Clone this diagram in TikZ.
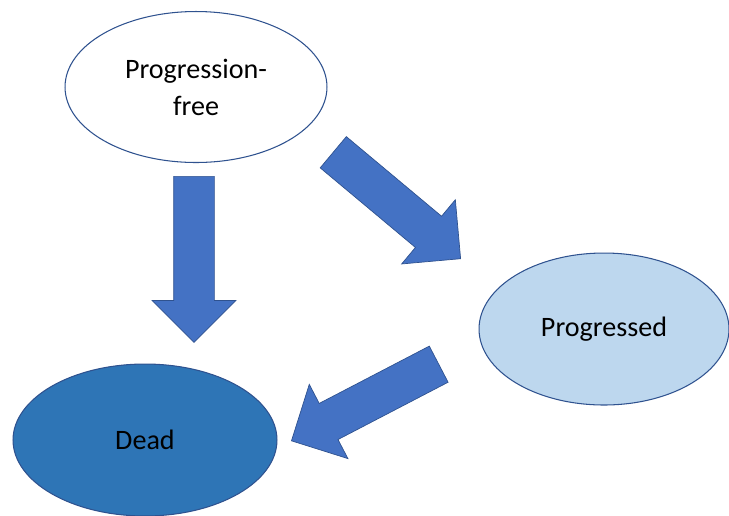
\documentclass[tikz,border=0pt]{standalone}
\usepackage{fontspec}
\setmainfont{Carlito}
\usetikzlibrary{shapes.geometric,shapes.arrows}
\definecolor{officeblue}{HTML}{4472C4}
\definecolor{edgeblue}{HTML}{2F528F}
\definecolor{deadblue}{HTML}{2E75B6}
\definecolor{paleblue}{HTML}{BDD7EE}
\begin{document}
\begin{tikzpicture}[
    x=0.02cm, y=-0.02cm,
    state/.style={ellipse,draw=edgeblue,line width=0.6pt,inner sep=0pt,
      minimum width=5.24cm,minimum height=3.02cm,align=center,
      font=\fontsize{16}{21}\selectfont},
    flow/.style={single arrow,draw=edgeblue,fill=officeblue,line width=0.4pt,
      inner xsep=0pt,inner ysep=0.4cm,minimum height=3.32cm,
      single arrow head extend=0.43cm,anchor=tail},
  ]
  \useasboundingbox (0,0) rectangle (729,515);
  \node[state,fill=white] (free) at (196,87) {Progression-\\free};
  \node[state,fill=paleblue,minimum width=5cm,minimum height=3.04cm] (prog) at (604,329) {Progressed};
  \node[state,fill=deadblue,minimum width=5.28cm,minimum height=3.04cm] (dead) at (145,440) {Dead};
  \node[flow,rotate=-90] (fd) at (194,176) {};
  \node[flow,rotate=-39.9] (fp) at (333,152) {};
  \node[flow,rotate=-152.5] (pd) at (439,364) {};
\end{tikzpicture}
\end{document}
